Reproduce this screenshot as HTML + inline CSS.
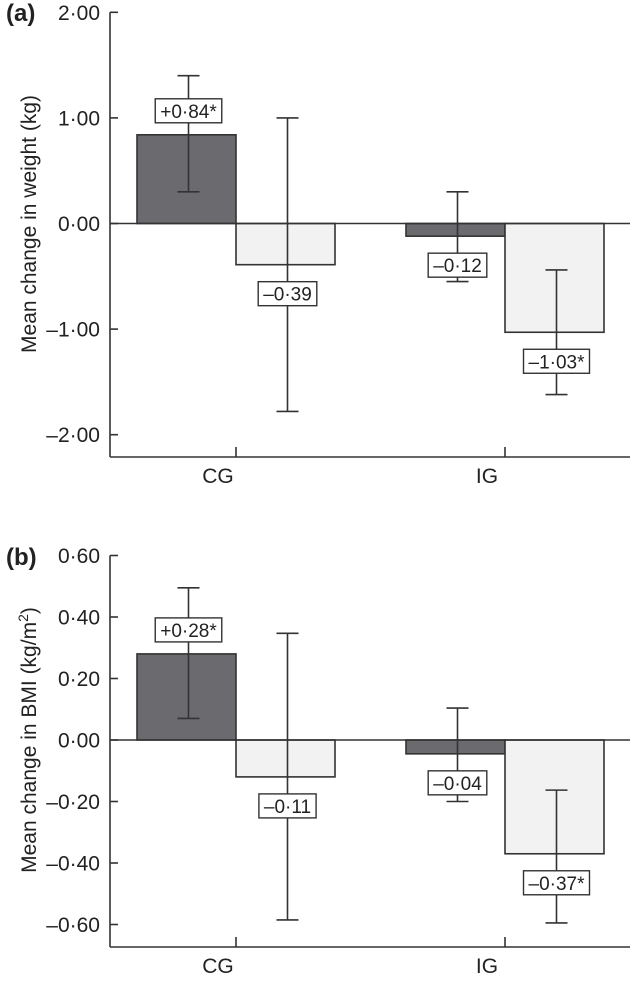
<!DOCTYPE html>
<html><head><meta charset="utf-8">
<style>
html,body{margin:0;padding:0;background:#fff;}
svg{display:block;font-family:"Liberation Sans",Arial,sans-serif;}
</style></head>
<body>
<svg id="chart" width="630" height="982" viewBox="0 0 630 982" xmlns="http://www.w3.org/2000/svg"></svg>
<script>
// ---- Data ----
const categories = ["CG", "IG"];
// Panel (a): weight (kg)
const weightDark = [0.84, -0.12];
const weightLight = [-0.39, -1.03];
const weightDarkErrLo = [0.30, -0.55];
const weightDarkErrHi = [1.40, 0.30];
const weightLightErrLo = [-1.78, -1.62];
const weightLightErrHi = [1.00, -0.44];
const weightDarkLabels = ["+0·84*", "–0·12"];
const weightLightLabels = ["–0·39", "–1·03*"];
const weightTicks = [2, 1, 0, -1, -2];
const weightTickLabels = ["2·00", "1·00", "0·00", "–1·00", "–2·00"];
// Panel (b): BMI
const bmiDark = [0.28, -0.045];
const bmiLight = [-0.12, -0.37];
const bmiDarkErrLo = [0.07, -0.20];
const bmiDarkErrHi = [0.495, 0.104];
const bmiLightErrLo = [-0.585, -0.595];
const bmiLightErrHi = [0.347, -0.163];
const bmiDarkLabels = ["+0·28*", "–0·04"];
const bmiLightLabels = ["–0·11", "–0·37*"];
const bmiTicks = [0.6, 0.4, 0.2, 0, -0.2, -0.4, -0.6];
const bmiTickLabels = ["0·60", "0·40", "0·20", "0·00", "–0·20", "–0·40", "–0·60"];

const NS = "http://www.w3.org/2000/svg";
const svg = document.getElementById("chart");
function mk(tag, attrs, parent) {
  const e = document.createElementNS(NS, tag);
  for (const k in attrs) e.setAttribute(k, attrs[k]);
  (parent || svg).appendChild(e);
  return e;
}

function panel(cfg) {
  const g = mk("g", {});
  
  
  const y = v => cfg.y0 - v * cfg.ppu;
  const xc = i => 236 + i * 269;
  const bw = 99;
  const stroke = "#333";

  const pl = mk("text", {x: 6, y: cfg.labelY, "font-size": 24, "font-weight": "bold", fill: "#222"}, g);
  pl.textContent = cfg.panelLabel;
  
  

  const yt = mk("text", {x: 0, y: 0, "font-size": 21, fill: "#222", "text-anchor": "middle",
    transform: `translate(36,${cfg.titleY}) rotate(-90)`}, g);
  yt.textContent = cfg.title;
  
  
  if (cfg.sup) {
    const ts = mk("tspan", {"font-size": 14, dy: -8}, yt); ts.textContent = "2";
    const ts2 = mk("tspan", {dy: 8}, yt); ts2.textContent = ")";
  }

  for (let i = 0; i < categories.length; i++) {
    [[cfg.dark, "#6b6b6f", xc(i) - bw, "dark"], [cfg.light, "#f2f2f2", xc(i), "light"]].forEach(([arr, fill, x, kind]) => {
      const v = arr[i];
      const r = mk("rect", {x: x, y: Math.min(y(v), y(0)), width: bw, height: Math.abs(y(v) - y(0)),
        fill: fill, stroke: stroke, "stroke-width": 1.6}, g);
      
      
    });
  }

  mk("line", {x1: 110, x2: 630, y1: y(0), y2: y(0), stroke: stroke, "stroke-width": 1.6}, g);

  for (let i = 0; i < categories.length; i++) {
    [["dark", cfg.dark, cfg.darkLo, cfg.darkHi, cfg.darkLab, xc(i) - bw / 2 + 2],
     ["light", cfg.light, cfg.lightLo, cfg.lightHi, cfg.lightLab, xc(i) + bw / 2 + 2]].forEach(([kind, vals, lo, hi, lab, ex]) => {
      const eg = mk("g", {}, g);
      
      
      mk("line", {x1: ex, x2: ex, y1: y(lo[i]), y2: y(hi[i]), stroke: stroke, "stroke-width": 1.6}, eg);
      mk("line", {x1: ex - 11, x2: ex + 11, y1: y(lo[i]), y2: y(lo[i]), stroke: stroke, "stroke-width": 1.6}, eg);
      mk("line", {x1: ex - 11, x2: ex + 11, y1: y(hi[i]), y2: y(hi[i]), stroke: stroke, "stroke-width": 1.6}, eg);

      const v = vals[i];
      const cy = v >= 0 ? y(v) - 24 : y(v) + 29;
      const lg = mk("g", {}, g);
      
      
      const rect = mk("rect", {fill: "#fff", stroke: stroke, "stroke-width": 1.4}, lg);
      const t = mk("text", {x: ex, y: cy + 7, "font-size": 19, "text-anchor": "middle", fill: "#222"}, lg);
      t.textContent = lab[i];
      const w = t.getComputedTextLength ? t.getComputedTextLength() : lab[i].length * 10;
      rect.setAttribute("x", ex - w / 2 - 5);
      rect.setAttribute("y", cy - 12);
      rect.setAttribute("width", w + 10);
      rect.setAttribute("height", 24);
    });
  }

  const yax = mk("line", {x1: 110, x2: 110, y1: y(cfg.ticks[0]), y2: cfg.bottom, stroke: stroke, "stroke-width": 1.6}, g);
  
  
  const xax = mk("line", {x1: 110, x2: 630, y1: cfg.bottom, y2: cfg.bottom, stroke: stroke, "stroke-width": 1.6}, g);
  
  
  cfg.ticks.forEach((tv, k) => {
    mk("line", {x1: 110, x2: 118, y1: y(tv), y2: y(tv), stroke: stroke, "stroke-width": 1.6}, g);
    const tl = mk("text", {x: 100, y: y(tv) + 7.5, "font-size": 21, "text-anchor": "end", fill: "#222"}, g);
    tl.textContent = cfg.tickLabels[k];
    
    
  });
  categories.forEach((c, i) => {
    mk("line", {x1: xc(i), x2: xc(i), y1: cfg.bottom - 10, y2: cfg.bottom, stroke: stroke, "stroke-width": 1.6}, g);
    const cl = mk("text", {x: xc(i) - 18, y: cfg.bottom + 26, "font-size": 21, "text-anchor": "middle", fill: "#222"}, g);
    cl.textContent = c;
    
    
  });
}

panel({name: "panel-a-weight", panelLabel: "(a)", labelY: 21, title: "Mean change in weight (kg)", titleY: 224,
  y0: 223.5, ppu: 105.6, bottom: 457,
  dark: weightDark, light: weightLight, darkLo: weightDarkErrLo, darkHi: weightDarkErrHi,
  lightLo: weightLightErrLo, lightHi: weightLightErrHi, darkLab: weightDarkLabels, lightLab: weightLightLabels,
  ticks: weightTicks, tickLabels: weightTickLabels});
panel({name: "panel-b-bmi", panelLabel: "(b)", labelY: 565, title: "Mean change in BMI (kg/m", sup: true, titleY: 740,
  y0: 740, ppu: 307.5, bottom: 947,
  dark: bmiDark, light: bmiLight, darkLo: bmiDarkErrLo, darkHi: bmiDarkErrHi,
  lightLo: bmiLightErrLo, lightHi: bmiLightErrHi, darkLab: bmiDarkLabels, lightLab: bmiLightLabels,
  ticks: bmiTicks, tickLabels: bmiTickLabels});
</script>
</body></html>
